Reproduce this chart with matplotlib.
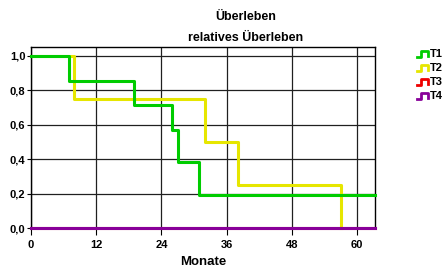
import numpy as np
import matplotlib.pyplot as plt
from matplotlib.lines import Line2D

# Kaplan-Meier step data (months, survival)
t1_time = [0, 7, 19, 26, 27, 31, 63.3]
t1_surv = [1.0, 0.857, 0.714, 0.571, 0.381, 0.19, 0.19]
t2_time = [0, 8, 32, 38, 57]
t2_surv = [1.0, 0.75, 0.5, 0.25, 0.0]
t3_time = [0, 63.3]
t3_surv = [0.0, 0.0]
t4_time = [0, 63.3]
t4_surv = [0.0, 0.0]

labels = ['T1', 'T2', 'T3', 'T4']
colors = ['#00cc00', '#e6e600', '#ee0000', '#880099']
xticks = [0, 12, 24, 36, 48, 60]
yticks = [0.0, 0.2, 0.4, 0.6, 0.8, 1.0]

plt.rcParams['font.family'] = ['Liberation Sans Narrow', 'Liberation Sans', 'DejaVu Sans']
plt.rcParams['font.weight'] = 'bold'

W, H = 443, 269
fig = plt.figure(figsize=(W / 100, H / 100), dpi=100)
ax = fig.add_axes([31 / W, 1 - 228 / H, (375 - 31) / W, (228 - 47) / H])

ax.set_xlim(0, 63.3)
ax.set_ylim(0, 1.052)
ax.set_xticks(xticks)
ax.set_yticks(yticks)
ax.set_yticklabels([('%.1f' % v).replace('.', ',') for v in yticks])
ax.grid(True, color='#202020', lw=0.9)
ax.set_axisbelow(True)
ax.tick_params(labelsize=8, width=0.8)
ax.tick_params(axis='x', length=5, pad=4)
ax.tick_params(axis='y', length=3, pad=1)
for s in ax.spines.values():
    s.set_linewidth(1.0)

series = [(t1_time, t1_surv), (t2_time, t2_surv), (t3_time, t3_surv), (t4_time, t4_surv)]
order = [1, 0, 2, 3]
for i in order:
    t, s = series[i]
    ax.step(t, s, where='post', color=colors[i], lw=2.2, clip_on=False, zorder=3 + (i == 0))

ax.set_xlabel('Monate', fontsize=9.5, fontweight='bold', labelpad=4,
              fontfamily=['Liberation Sans', 'DejaVu Sans'])

fig.text(246 / W, 1 - 17 / H, 'Überleben', ha='center', va='center', fontsize=9)
fig.text(246 / W, 1 - 38 / H, 'relatives Überleben', ha='center', va='center', fontsize=9)

# legend with small step icons
icon_x = np.array([0, 4, 4, 11, 11]) + 417
icon_y = np.array([3, 3, -3, -3, 2])
for k, lab in enumerate(labels):
    yc = 54 + 14 * k
    fig.add_artist(Line2D(icon_x / W, 1 - (yc + icon_y) / H, color=colors[k], lw=2.0,
                          transform=fig.transFigure))
    fig.text(430 / W, 1 - yc / H, lab, ha='left', va='center', fontsize=8)

fig.savefig('out.png', dpi=100)
